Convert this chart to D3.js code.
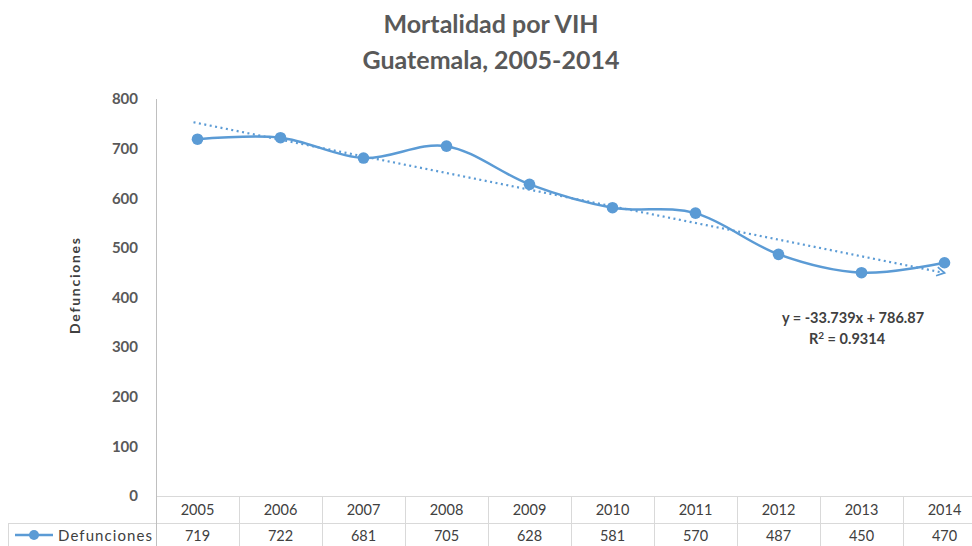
<!DOCTYPE html>
<html><head><meta charset="utf-8">
<script src="https://cdn.jsdelivr.net/npm/d3@7"></script>
<style>
html,body{margin:0;padding:0;background:#fff;overflow:hidden;}
text{font-family:Lato,"Open Sans",sans-serif;}
</style></head>
<body><svg id="c" width="972" height="546"></svg>
<script>
const years = ["2005","2006","2007","2008","2009","2010","2011","2012","2013","2014"];
const defunciones = [719,722,681,705,628,581,570,487,450,470];
const yTicks = [0,100,200,300,400,500,600,700,800];
const trendSlope = -33.739, trendIntercept = 786.87, r2 = 0.9314;
const seriesName = "Defunciones";
const titleLines = ["Mortalidad por VIH","Guatemala, 2005-2014"];

const svg = d3.select("#c");
const blue = "#5B9BD5", grid = "#d9d9d9", txt = "#595959";
const x = d3.scaleBand().domain(years).range([156, 986]);
const y = d3.scaleLinear().domain([0, 800]).range([496, 99]);

// title
svg.selectAll(".title").data(titleLines).enter().append("text")
  .attr("x", 491).attr("y", (d,i) => 33 + i*36)
  .attr("text-anchor","middle").attr("font-size", 25).attr("font-weight","bold")
  .attr("fill", txt).text(d => d);

// y axis
const yAxis = d3.axisLeft(y).tickValues(yTicks).tickSize(0).tickPadding(18);
const ga = svg.append("g").attr("transform","translate(156,0)").call(yAxis);
ga.select(".domain").attr("stroke","#bfbfbf").attr("stroke-width",1);
ga.selectAll("text").attr("font-size",15).attr("font-weight","bold").attr("fill",txt)
  .style("font-family","Lato,sans-serif");

svg.append("text").attr("transform","translate(80,286) rotate(-90)")
  .attr("text-anchor","middle").attr("font-size",14).attr("font-weight","bold")
  .attr("textLength",96).attr("lengthAdjust","spacing")
  .attr("fill","#404040").text(seriesName);

// table
const tg = svg.append("g");
tg.append("line").attr("x1",156).attr("x2",986).attr("y1",496.5).attr("y2",496.5).attr("stroke",grid);
tg.append("line").attr("x1",8).attr("x2",986).attr("y1",523.5).attr("y2",523.5).attr("stroke",grid);
tg.append("line").attr("x1",8.5).attr("x2",8.5).attr("y1",523).attr("y2",546).attr("stroke",grid);
tg.selectAll(".vl").data(years).enter().append("line")
  .attr("x1", d => Math.round(x(d))+0.5).attr("x2", d => Math.round(x(d))+0.5)
  .attr("y1", d => d===years[0] ? 99 : 496).attr("y2",546)
  .attr("stroke", d => d===years[0] ? "#bfbfbf" : grid);
tg.selectAll(".yr").data(years).enter().append("text")
  .attr("x", d => x(d)+x.bandwidth()/2).attr("y",515).attr("text-anchor","middle")
  .attr("font-size",14.5).attr("fill","#404040").text(d => d);
tg.selectAll(".val").data(defunciones).enter().append("text")
  .attr("x", (d,i) => x(years[i])+x.bandwidth()/2).attr("y",541).attr("text-anchor","middle")
  .attr("font-size",14.5).attr("fill","#404040").text(d => d);
tg.append("line").attr("x1",15).attr("x2",53).attr("y1",535).attr("y2",535).attr("stroke",blue).attr("stroke-width",2.5);
tg.append("circle").attr("cx",34).attr("cy",535).attr("r",5).attr("fill",blue);
tg.append("text").attr("x",58).attr("y",541).attr("font-size",15).attr("fill","#404040")
  .attr("textLength",94).attr("lengthAdjust","spacing").text(seriesName);

// trend line
svg.append("defs").append("marker").attr("id","arr").attr("viewBox","0 0 10 10")
  .attr("refX",8).attr("refY",5).attr("markerWidth",5).attr("markerHeight",5).attr("orient","auto")
  .append("path").attr("d","M1,1 L8,5 L1,9").attr("fill","none").attr("stroke",blue).attr("stroke-width",1.6);
const tx = [1, years.length];
svg.append("line")
  .attr("x1", x(years[0])+x.bandwidth()/2 - 4).attr("y1", y(trendSlope*tx[0]+trendIntercept))
  .attr("x2", x(years[years.length-1])+x.bandwidth()/2).attr("y2", y(trendSlope*tx[1]+trendIntercept))
  .attr("stroke", blue).attr("stroke-width",2.2).attr("stroke-dasharray","2,3.5")
  .attr("marker-end","url(#arr)");

// series
const line = d3.line().x((d,i) => x(years[i])+x.bandwidth()/2).y(d => y(d)).curve(d3.curveCardinal.tension(0));
svg.append("path").datum(defunciones).attr("d", line).attr("fill","none")
  .attr("stroke", blue).attr("stroke-width",2.5);
svg.selectAll(".pt").data(defunciones).enter().append("circle")
  .attr("cx",(d,i) => x(years[i])+x.bandwidth()/2).attr("cy", d => y(d)).attr("r",5.8).attr("fill",blue);

// equation
const eq = svg.append("text").attr("text-anchor","middle").attr("font-size",14.5).attr("font-weight","bold").attr("fill","#404040");
eq.append("tspan").attr("x",853).attr("y",323).text(`y = ${trendSlope}x + ${trendIntercept}`);
const t2 = svg.append("text").attr("text-anchor","middle").attr("font-size",14.5).attr("font-weight","bold").attr("fill","#404040")
  .attr("x",847).attr("y",344);
t2.append("tspan").text("R");
t2.append("tspan").attr("font-size",10).attr("dy",-5).text("2");
t2.append("tspan").attr("dy",5).text(` = ${r2}`);
</script></body></html>
